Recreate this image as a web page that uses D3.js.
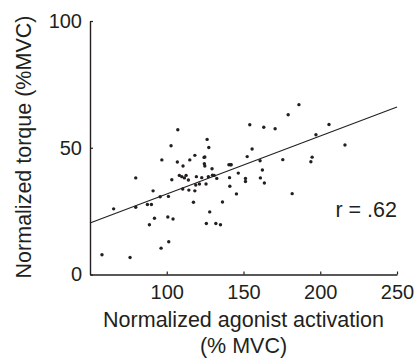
<!DOCTYPE html>
<html>
<head>
<meta charset="utf-8">
<script src="https://cdn.jsdelivr.net/npm/d3@7"></script>
<style>
  html, body { margin: 0; padding: 0; background: #fff; overflow: hidden; }
  svg { display: block; }
  svg text { font-family: "Liberation Sans", Arial, sans-serif; fill: #231f20; }
  .axis path, .axis line { stroke: #231f20; }
</style>
</head>
<body>
<div id="chart"></div>
<script>
// activation (% MVC) for each trial
const activation = [
  57.8, 65.4, 76.1, 79.8, 79.8, 87.4, 90.0, 88.7, 91.1, 92.0,
  95.7, 96.8, 96.3, 101.1, 100.7, 101.3, 102.8, 103.3, 104.1, 107.2,
  106.9, 108.2, 109.8, 110.6, 110.4, 111.5, 112.6, 114.1, 114.4, 115.0,
  117.4, 118.3, 118.3, 118.9, 119.3, 121.3, 122.8, 124.3, 124.8, 124.5,
  124.8, 125.6, 125.8, 126.3, 127.4, 127.1, 128.0, 129.5, 129.8, 130.9,
  132.0, 132.6, 135.0, 136.3, 140.5, 141.5, 140.9, 141.1, 142.0, 145.4,
  146.6, 151.3, 151.3, 152.4, 154.1, 155.6, 160.8, 161.0, 162.3, 163.2,
  163.6, 170.6, 175.6, 179.1, 181.7, 186.1, 193.9, 194.7, 197.2, 205.7,
  216.1
];
// torque (% MVC) for each trial
const torque = [
  7.8, 25.9, 6.7, 38.1, 26.5, 27.6, 27.6, 19.6, 33.0, 22.2,
  30.7, 45.2, 10.4, 30.8, 22.7, 12.9, 50.8, 37.4, 21.9, 57.1,
  44.4, 39.1, 38.6, 42.8, 33.7, 38.1, 39.1, 37.3, 33.3, 45.2,
  28.5, 47.0, 33.0, 35.3, 38.6, 35.7, 38.2, 46.2, 46.4, 43.7,
  42.8, 35.7, 20.1, 53.3, 50.1, 38.6, 24.7, 41.7, 39.2, 39.1,
  20.1, 37.9, 19.6, 28.6, 43.3, 43.3, 38.2, 34.8, 43.3, 31.8,
  40.0, 37.9, 36.7, 46.5, 59.1, 49.5, 44.9, 38.1, 41.2, 58.1,
  36.1, 57.5, 45.3, 63.0, 31.9, 67.0, 44.5, 46.3, 55.1, 59.2,
  51.1
];
// regression line end points
const fitX = [50, 250];
const fitY = [20.3, 66.1];
const xTicks = [100, 150, 200, 250];
const yTicks = [0, 50, 100];
const rLabel = 'r = .62';

const data = activation.map((a, i) => ({ x: a, y: torque[i] }));

const width = 416, height = 360;
const margin = { top: 21, right: 19, bottom: 85.5, left: 90 };
const innerWidth = width - margin.left - margin.right;
const innerHeight = height - margin.top - margin.bottom;

const svg = d3.select('#chart').append('svg')
  .attr('width', width)
  .attr('height', height);

const g = svg.append('g')
  .attr('transform', `translate(${margin.left},${margin.top})`);

const xScale = d3.scaleLinear().domain([50, 250]).range([0, innerWidth]);
const yScale = d3.scaleLinear().domain([0, 100]).range([innerHeight, 0]);

const xAxis = d3.axisBottom(xScale)
  .tickValues(xTicks)
  .tickSizeInner(-3)
  .tickSizeOuter(0)
  .tickPadding(10);

const yAxis = d3.axisLeft(yScale)
  .tickValues(yTicks)
  .tickSizeInner(-3)
  .tickSizeOuter(0)
  .tickPadding(8);

const xAxisG = g.append('g')
  .attr('class', 'axis')
  .attr('transform', `translate(0,${innerHeight})`)
  .call(xAxis);

const yAxisG = g.append('g')
  .attr('class', 'axis')
  .call(yAxis);

g.selectAll('.axis path').attr('stroke-width', 1.4);
g.selectAll('.axis line').attr('stroke-width', 1.2);
g.selectAll('.axis text')
  .attr('font-size', 20)
  .attr('font-family', '"Liberation Sans", Arial, sans-serif')
  .attr('fill', '#231f20');

// fit line
g.append('line')
  .attr('x1', xScale(fitX[0]))
  .attr('y1', yScale(fitY[0]))
  .attr('x2', xScale(fitX[1]))
  .attr('y2', yScale(fitY[1]))
  .attr('stroke', '#231f20')
  .attr('stroke-width', 1.1);

// points
g.selectAll('circle')
  .data(data)
  .enter().append('circle')
  .attr('cx', d => xScale(d.x))
  .attr('cy', d => yScale(d.y))
  .attr('r', 1.7)
  .attr('fill', '#231f20');

// r value
g.append('text')
  .attr('x', innerWidth)
  .attr('y', 195.5)
  .attr('text-anchor', 'end')
  .attr('font-size', 21.5)
  .text(rLabel);

// axis labels
g.append('text')
  .attr('x', innerWidth / 2)
  .attr('y', innerHeight + 52.5)
  .attr('text-anchor', 'middle')
  .attr('font-size', 21.5)
  .text('Normalized agonist activation');

g.append('text')
  .attr('x', innerWidth / 2)
  .attr('y', innerHeight + 78.5)
  .attr('text-anchor', 'middle')
  .attr('font-size', 21.5)
  .text('(% MVC)');

g.append('text')
  .attr('transform', `translate(${31 - margin.left},${126}) rotate(-90)`)
  .attr('text-anchor', 'middle')
  .attr('font-size', 21.5)
  .text('Normalized torque (%MVC)');
</script>
</body>
</html>
